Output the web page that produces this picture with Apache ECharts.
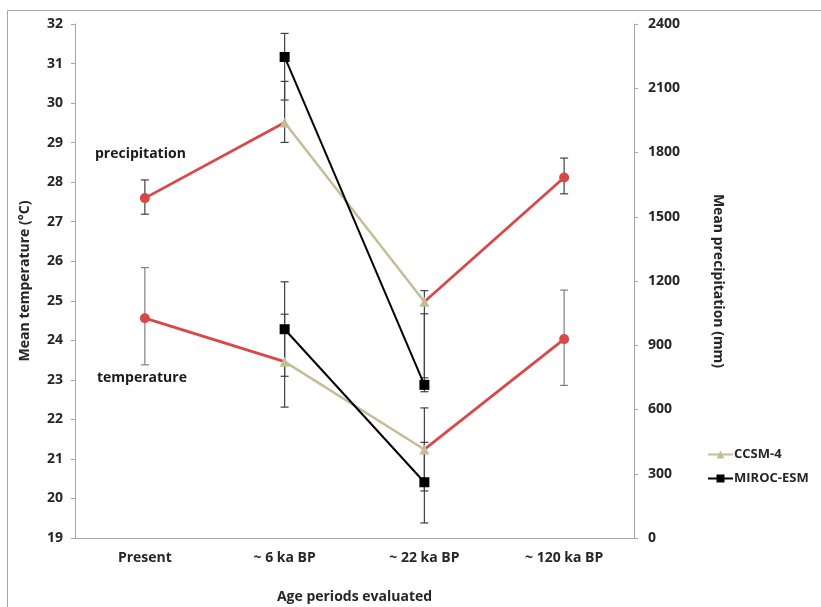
<!DOCTYPE html>
<html>
<head>
<meta charset="utf-8">
<script src="https://cdn.jsdelivr.net/npm/echarts@6/dist/echarts.min.js"></script>
<style>
  html, body { margin: 0; padding: 0; background: #fff; }
  #container { width: 821px; height: 607px; }
</style>
</head>
<body>
<div id="container"></div>
<script>
var categories = ['Present', '~ 6 ka BP', '~ 22 ka BP', '~ 120 ka BP'];

// temperature (left axis, °C)
var obsTemp   = [24.56, null, null, 24.03];
var ccsmTemp  = [null, 23.46, 21.24, null];
var mirocTemp = [null, 24.28, 20.41, null];
// precipitation (right axis, mm)
var obsPrec   = [1587, null, null, 1683];
var ccsmPrec  = [null, 1940, 1103, null];
var mirocPrec = [null, 2246, 715, null];

// error bar ends [low, high]
var obsTempErr   = [[23.38, 25.84], null, null, [22.86, 25.27]];
var ccsmTempErr  = [null, [22.31, 24.66], [20.19, 22.29], null];
var mirocTempErr = [null, [23.09, 25.48], [19.38, 21.42], null];
var obsPrecErr   = [[1512, 1672], null, null, [1607, 1774]];
var ccsmPrecErr  = [null, [1847, 2132], [683, 1155], null];
var mirocPrecErr = [null, [2045, 2356], [748, 1047], null];

var RED = '#d94848', TAN = '#c4bd97', BLACK = '#000000';
var FONT = 'Open Sans';

window.onload = function () {
    var myChart = echarts.init(document.getElementById('container'));

    function errData(arr) {
        var out = [];
        arr.forEach(function (e, i) { if (e) out.push([i, e[0], e[1]]); });
        return out;
    }

    function errSeries(arr, axis, color) {
        return {
            type: 'custom',
            yAxisIndex: axis,
            z: 1,
            silent: true,
            data: errData(arr),
            renderItem: function (params, api) {
                var lo = api.coord([api.value(0), api.value(1)]);
                var hi = api.coord([api.value(0), api.value(2)]);
                var w = 4;
                var st = { stroke: color, lineWidth: 1.2 };
                return {
                    type: 'group',
                    children: [
                        { type: 'line', shape: { x1: lo[0], y1: lo[1], x2: hi[0], y2: hi[1] }, style: st },
                        { type: 'line', shape: { x1: lo[0] - w, y1: lo[1], x2: lo[0] + w, y2: lo[1] }, style: st },
                        { type: 'line', shape: { x1: hi[0] - w, y1: hi[1], x2: hi[0] + w, y2: hi[1] }, style: st }
                    ]
                };
            }
        };
    }

    // red observed line: joins observed points to the CCSM-4 values in the gaps
    function redSeg(obs, ccsm, from, to, obsIdx) {
        var d = [];
        for (var i = 0; i < categories.length; i++) {
            if (i === from || i === to) {
                var v = obs[i] != null ? obs[i] : ccsm[i];
                d.push(i === obsIdx ? v : { value: v, symbol: 'none' });
            } else {
                d.push('-');
            }
        }
        return {
            type: 'line',
            yAxisIndex: obs === obsPrec ? 1 : 0,
            data: d,
            symbol: 'circle',
            symbolSize: 10,
            lineStyle: { color: RED, width: 2.8 },
            itemStyle: { color: RED },
            z: 2
        };
    }

    function modelSeries(name, data, axis, color, symbol, size, width) {
        return {
            name: name,
            type: 'line',
            yAxisIndex: axis,
            data: data.map(function (v) { return v == null ? '-' : v; }),
            symbol: symbol,
            symbolSize: size,
            lineStyle: { color: color, width: width },
            itemStyle: { color: color },
            z: name === 'MIROC-ESM' ? 4 : 3
        };
    }

    var labelStyle = { color: '#262626', fontFamily: FONT, fontWeight: 'bold', fontSize: 14 };
    var axisLine = { show: true, lineStyle: { color: '#a6a6a6', width: 1 } };

    var option = {
        animation: false,
        backgroundColor: '#fff',
        grid: { left: 75, right: 187, top: 24, bottom: 69, outerBoundsMode: 'none', containLabel: false },
        legend: {
            data: ['CCSM-4', 'MIROC-ESM'],
            orient: 'vertical',
            left: 707,
            top: 448,
            padding: 0,
            itemWidth: 25,
            itemHeight: 10,
            itemGap: 11,
            textStyle: { color: '#262626', fontFamily: FONT, fontWeight: 'bold', fontSize: 13, padding: [0, 0, 0, -4] }
        },
        graphic: [
            { type: 'rect', shape: { x: 7.5, y: 10.5, width: 900, height: 700 },
              style: { fill: 'none', stroke: '#a6a6a6', lineWidth: 1 }, silent: true },
            { type: 'text', left: 95, top: 147,
              style: { text: 'precipitation', fill: '#1a1a1a', font: 'bold 14px "Open Sans"' } },
            { type: 'text', left: 97, top: 371,
              style: { text: 'temperature', fill: '#1a1a1a', font: 'bold 14px "Open Sans"' } }
        ],
        xAxis: {
            type: 'category',
            data: categories,
            boundaryGap: true,
            name: 'Age periods evaluated',
            nameLocation: 'middle',
            nameGap: 52,
            nameTextStyle: labelStyle,
            axisLine: axisLine,
            axisTick: { show: false },
            axisLabel: Object.assign({ margin: 13 }, labelStyle),
            splitLine: { show: false }
        },
        yAxis: [{
            type: 'value',
            min: 19, max: 32, interval: 1,
            name: 'Mean temperature (°C)',
            nameLocation: 'middle',
            nameGap: 43,
            nameTextStyle: labelStyle,
            axisLine: axisLine,
            axisTick: { show: true, length: 4, lineStyle: { color: '#a6a6a6' } },
            axisLabel: Object.assign({ margin: 12 }, labelStyle),
            splitLine: { show: false }
        }, {
            type: 'value',
            min: 0, max: 2400, interval: 300,
            name: 'Mean precipitation (mm)',
            nameLocation: 'middle',
            nameGap: 77,
            nameRotate: -90,
            nameTextStyle: labelStyle,
            axisLine: axisLine,
            axisTick: { show: true, length: 4, lineStyle: { color: '#a6a6a6' } },
            axisLabel: Object.assign({ margin: 14, formatter: function (v) { return String(v); } }, labelStyle),
            splitLine: { show: false }
        }],
        series: [
            errSeries(obsTempErr, 0, '#7f7f7f'),
            errSeries(ccsmTempErr, 0, '#404040'),
            errSeries(mirocTempErr, 0, '#404040'),
            errSeries(obsPrecErr, 1, '#404040'),
            errSeries(ccsmPrecErr, 1, '#404040'),
            errSeries(mirocPrecErr, 1, '#404040'),
            redSeg(obsTemp, ccsmTemp, 0, 1, 0),
            redSeg(obsTemp, ccsmTemp, 2, 3, 3),
            redSeg(obsPrec, ccsmPrec, 0, 1, 0),
            redSeg(obsPrec, ccsmPrec, 2, 3, 3),
            modelSeries('CCSM-4', ccsmTemp, 0, TAN, 'triangle', 10, 2.5),
            modelSeries('MIROC-ESM', mirocTemp, 0, BLACK, 'rect', 10, 2),
            modelSeries('CCSM-4', ccsmPrec, 1, TAN, 'triangle', 10, 2.5),
            modelSeries('MIROC-ESM', mirocPrec, 1, BLACK, 'rect', 10, 2)
        ]
    };

    myChart.setOption(option);
};
</script>
</body>
</html>
